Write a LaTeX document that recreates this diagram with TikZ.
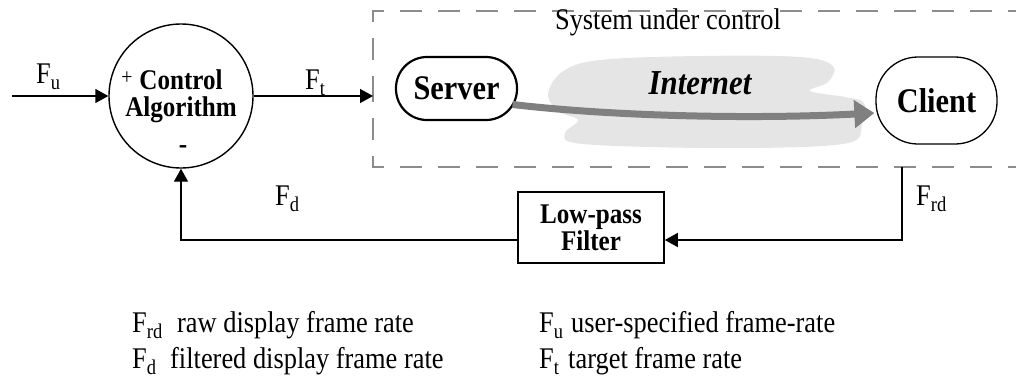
\documentclass[tikz,border=0pt]{standalone}
\usepackage{fontspec}
\setmainfont[FakeStretch=0.88]{Liberation Serif}
\usetikzlibrary{arrows.meta,calc}
\newcommand{\lowsub}[1]{\raisebox{-6pt}{\fontsize{21}{21}\selectfont #1}}
\begin{document}
\begin{tikzpicture}[x=1pt,y=-1pt,
  reg/.style={font=\fontsize{30}{34}\selectfont, inner sep=0pt},
  bld/.style={font=\fontsize{28.5}{27}\selectfont\bfseries, inner sep=0pt},
  big/.style={font=\fontsize{34.5}{34}\selectfont\bfseries, inner sep=0pt},
  arr/.style={line width=1.4pt, -{Triangle[length=13pt,width=14pt]}},
  dbox/.style={line width=1.3pt, black!45, dash pattern=on 22pt off 16pt, dash phase=9pt},
  cloudfill/.style={fill=black!10, draw=none},
  netarrow/.style={line width=7pt, black!50, -{Triangle[length=20pt,width=27pt]}}]
\useasboundingbox (0,0) rectangle (1016,381);

% system under control (dashed, open to the right)
\draw[dbox] (373,89) -- (373,11) -- (1016,11);
\draw[dbox] (373,89) -- (373,167) -- (1016,167);
\node[reg, anchor=base] (sysl) at (668,29) {System under control};

% cloud
\path[cloudfill] plot[smooth cycle, tension=0.6] coordinates {
  (548,95) (562,72) (600,60) (700,56) (800,57) (833,66) (828,82) (810,91)
  (845,97) (864,103) (862,125) (848,143) (760,148) (650,147) (575,143)
  (565,133) (578,120) (560,112)};
\node[font=\fontsize{35}{35}\selectfont\bfseries\itshape, inner sep=0pt, anchor=base] (inet) at (700,94) {Internet};

% server and client
\node[big, draw, line width=2.2pt, rounded corners=31pt, minimum width=121pt, minimum height=63pt, fill=white] (server) at (456.5,88.5) {Server};
\node[big, draw, line width=1.3pt, rounded corners=42pt, minimum width=121pt, minimum height=87pt, fill=white] (client) at (936.5,100.5) {Client};
\draw[netarrow] ($(server.center)+(56,16)$) .. controls (620,117) and (760,119) .. ($(client.west)+(-1,12.5)$);

% controller
\node[bld, circle, draw, line width=1.4pt, minimum size=144pt, align=center] (ctrl) at (181,96) {Control\\Algorithm};
\node[font=\fontsize{22.5}{22.5}\selectfont, inner sep=0pt] (plus) at (127,78) {+};
\node[bld] (minus) at (183,150) {-};

% filter
\node[bld, draw, line width=1.6pt, minimum width=146pt, minimum height=71pt, align=center] (filter) at (591,227.5) {Low-pass\\Filter};

% connectors
\coordinate (in) at (12,96);
\coordinate (sysin) at (373,96);
\coordinate (frdstart) at (902,167);
\draw[arr] (in) -- (ctrl.west);
\draw[arr] (ctrl.east) -- (sysin);
\draw[arr] (frdstart) |- ($(filter.east)+(0,12.5)$);
\draw[arr] ($(filter.west)+(0,12.5)$) -| (ctrl.south);

% signal labels
\node[reg, anchor=base west] (fu) at (36,83) {F\lowsub{u}};
\node[reg, anchor=base west] (ft) at (305,89) {F\lowsub{t}};
\node[reg, anchor=base west] (fd) at (275,205) {F\lowsub{d}};
\node[reg, anchor=base west] (frd) at (916,205) {F\lowsub{rd}};

% legend
\node[reg, anchor=base west] (l1s) at (132,332) {F\lowsub{rd}};
\node[reg, anchor=base west] (l1t) at (177,332) {raw display frame rate};
\node[reg, anchor=base west] (l2s) at (132,368) {F\lowsub{d}};
\node[reg, anchor=base west] (l2t) at (170,368) {filtered display frame rate};
\node[reg, anchor=base west] (l3s) at (539,332) {F\lowsub{u}};
\node[reg, anchor=base west] (l3t) at (571,332) {user-specified frame-rate};
\node[reg, anchor=base west] (l4s) at (539,368) {F\lowsub{t}};
\node[reg, anchor=base west] (l4t) at (568,368) {target frame rate};
\end{tikzpicture}
\end{document}
